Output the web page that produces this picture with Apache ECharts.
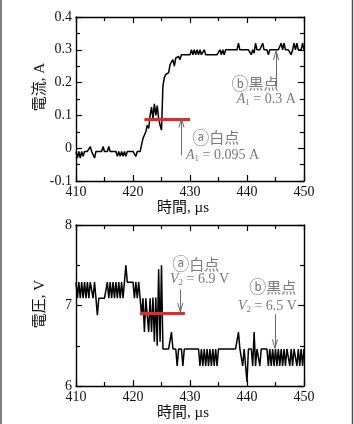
<!DOCTYPE html>
<html>
<head>
<meta charset="utf-8">
<script src="https://cdn.jsdelivr.net/npm/echarts@6/dist/echarts.min.js"></script>
<style>
  html, body { margin: 0; padding: 0; background: #fff; }
  #chart { width: 354px; height: 424px; }
</style>
</head>
<body>
<div id="chart"></div>
<script>
// sampling of both traces (µs)
var TIME_START = 410;
var TIME_STEP = 0.25;

// current trace, A (one row per µs)
var currentA = [
  -0.01, -0.03, -0.01, -0.03,   // 410
  -0.01, -0.025, -0.01, -0.01,  // 411
  -0.01, -0.01, 0.005, -0.01,   // 412
  -0.01, -0.03, -0.01, -0.01,   // 413
  -0.01, -0.01, -0.01, 0.005,   // 414
  -0.01, -0.01, -0.01, 0.005,   // 415
  -0.01, -0.01, -0.01, -0.01,   // 416
  -0.01, -0.025, -0.01, -0.025, // 417
  -0.01, -0.025, -0.01, -0.025, // 418
  -0.01, -0.01, -0.01, -0.01,   // 419
  -0.01, -0.01, -0.025, -0.01,  // 420
  -0.01, -0.01, 0.01, 0.03,     // 421
  0.03, 0.05, 0.07, 0.06,       // 422
  0.1, 0.125, 0.09, 0.135,      // 423
  0.1, 0.13, 0.09, 0.07,        // 424
  0.055, 0.19, 0.215, 0.225,    // 425
  0.23, 0.23, 0.255, 0.26,      // 426
  0.27, 0.25, 0.275, 0.28,      // 427
  0.28, 0.27, 0.285, 0.285,     // 428
  0.285, 0.285, 0.285, 0.285,   // 429
  0.285, 0.3, 0.285, 0.3,       // 430
  0.285, 0.3, 0.285, 0.3,       // 431
  0.285, 0.285, 0.3, 0.285,     // 432
  0.285, 0.285, 0.285, 0.285,   // 433
  0.285, 0.285, 0.285, 0.285,   // 434
  0.285, 0.3, 0.285, 0.3,       // 435
  0.285, 0.3, 0.3, 0.3,         // 436
  0.3, 0.3, 0.3, 0.3,           // 437
  0.3, 0.3, 0.32, 0.3,          // 438
  0.3, 0.3, 0.3, 0.3,           // 439
  0.3, 0.3, 0.3, 0.285,         // 440
  0.3, 0.29, 0.32, 0.3,         // 441
  0.3, 0.3, 0.3, 0.32,          // 442
  0.3, 0.3, 0.3, 0.285,         // 443
  0.3, 0.3, 0.3, 0.3,           // 444
  0.3, 0.3, 0.3, 0.3,           // 445
  0.32, 0.3, 0.32, 0.3,         // 446
  0.3, 0.3, 0.3, 0.285,         // 447
  0.3, 0.32, 0.3, 0.32,         // 448
  0.3, 0.3, 0.3, 0.32,          // 449
  0.3                           // 450
];

// voltage trace, V
var voltageV = [
  7.29, 7.09, 7.29, 7.09, // 410
  7.29, 7.09, 7.29, 7.09, // 411
  7.29, 7.09, 7.29, 7.29, // 412
  7.09, 7.29, 7.09, 6.88, // 413
  7.09, 7.09, 7.09, 7.09, // 414
  7.09, 7.09, 7.29, 7.09, // 415
  7.29, 7.09, 7.29, 7.09, // 416
  7.29, 7.09, 7.29, 7.09, // 417
  7.29, 7.09, 7.29, 7.5,  // 418
  7.29, 7.29, 7.29, 7.29, // 419
  7.29, 7.09, 7.29, 7.09, // 420
  7.29, 7.09, 6.88, 7.09, // 421
  6.67, 7.09, 6.88, 6.67, // 422
  7.09, 6.67, 7.1, 6.55,  // 423
  7.1, 6.5, 7.45, 6.55,   // 424
  7.5, 6.46, 6.46, 6.46,  // 425
  6.46, 6.46, 6.46, 6.67, // 426
  6.46, 6.46, 6.46, 6.25, // 427
  6.46, 6.46, 6.46, 6.25, // 428
  6.46, 6.46, 6.46, 6.46, // 429
  6.46, 6.46, 6.46, 6.46, // 430
  6.46, 6.46, 6.46, 6.25, // 431
  6.46, 6.25, 6.46, 6.25, // 432
  6.46, 6.25, 6.46, 6.25, // 433
  6.46, 6.25, 6.46, 6.25, // 434
  6.46, 6.46, 6.46, 6.46, // 435
  6.46, 6.46, 6.46, 6.46, // 436
  6.46, 6.46, 6.46, 6.46, // 437
  6.46, 6.46, 6.67, 6.46, // 438
  6.46, 6.25, 6.46, 6.46, // 439
  6.05, 6.46, 6.46, 6.46, // 440
  6.25, 6.67, 6.25, 6.46, // 441
  6.46, 6.25, 6.46, 6.46, // 442
  6.46, 6.46, 6.46, 6.25, // 443
  6.46, 6.25, 6.46, 6.25, // 444
  6.46, 6.25, 6.46, 6.25, // 445
  6.46, 6.25, 6.46, 6.25, // 446
  6.46, 6.46, 6.25, 6.46, // 447
  6.25, 6.46, 6.46, 6.25, // 448
  6.46, 6.25, 6.46, 6.25, // 449
  6.46                    // 450
];

// marked levels (white point / black point)
var currentMarks = { white: 0.095, black: 0.3 };
var voltageMarks = { white: 6.9, black: 6.5 };

var SERIF = '"Liberation Serif", "Times New Roman", "Noto Sans CJK JP", serif';
var NOTE_COLOR = '#7a7a7a';

function toPairs(vals) {
  var out = [];
  for (var i = 0; i < vals.length; i++) {
    out.push([TIME_START + i * TIME_STEP, vals[i]]);
  }
  return out;
}

function xAxisCfg(grid, pos, labels) {
  return {
    type: 'value', gridIndex: grid, position: pos,
    min: 410, max: 450, interval: 10,
    axisLine: { show: true, onZero: false, lineStyle: { color: '#000', width: 1.4 } },
    axisTick: { show: true, inside: true, length: 6, lineStyle: { color: '#000', width: 1.2 } },
    minorTick: { show: true, splitNumber: 2, length: 4, lineStyle: { color: '#000', width: 1.2 } },
    splitLine: { show: false },
    axisLabel: { show: labels, margin: 4, color: '#111', fontSize: 14, fontFamily: SERIF }
  };
}

function yAxisCfg(grid, pos, labels, min, max, interval) {
  return {
    type: 'value', gridIndex: grid, position: pos,
    min: min, max: max, interval: interval,
    axisLine: { show: true, onZero: false, lineStyle: { color: '#000', width: 1.4 } },
    axisTick: { show: true, inside: true, length: 6, lineStyle: { color: '#000', width: 1.2 } },
    minorTick: { show: true, splitNumber: 2, length: 4, lineStyle: { color: '#000', width: 1.2 } },
    splitLine: { show: false },
    axisLabel: { show: labels, margin: 4, color: '#111', fontSize: 14, fontFamily: SERIF }
  };
}

// vertical arrow: shaft from tail to tip, plus an open V head at the tip
function arrowLines(t, tail, tip, headW, headH) {
  var dir = tip > tail ? -1 : 1;
  return [
    [{ coord: [t, tail] }, { coord: [t, tip] }],
    [{ coord: [t - headW, tip + dir * headH] }, { coord: [t, tip] }],
    [{ coord: [t + headW, tip + dir * headH] }, { coord: [t, tip] }]
  ];
}

function note(t, v, text) {
  return {
    coord: [t, v], value: 0, symbolSize: 0,
    label: {
      show: true, position: 'inside', align: 'left', verticalAlign: 'middle',
      formatter: text, color: NOTE_COLOR, fontSize: 14, fontFamily: SERIF,
      rich: {
        c: { fontSize: 17, fontFamily: '"Noto Sans CJK JP"', color: NOTE_COLOR },
        j: { fontSize: 15, fontFamily: '"Noto Sans CJK JP"', color: NOTE_COLOR },
        i: { fontStyle: 'italic', fontSize: 14, fontFamily: SERIF, color: NOTE_COLOR },
        s: { fontSize: 9, fontFamily: SERIF, color: NOTE_COLOR, padding: [7, 0, 0, 0] }
      }
    }
  };
}

var redLine = { color: '#e8262b', width: 3.2, type: 'solid' };
var arrowStyle = { color: '#6a6a6a', width: 1, type: 'solid' };

var option = {
  animation: false,
  backgroundColor: '#fff',
  grid: [
    { left: 76, top: 17, width: 228, height: 164 },
    { left: 76, top: 225, width: 228, height: 161 }
  ],
  xAxis: [
    xAxisCfg(0, 'bottom', true), xAxisCfg(0, 'top', false),
    xAxisCfg(1, 'bottom', true), xAxisCfg(1, 'top', false)
  ],
  yAxis: [
    yAxisCfg(0, 'left', true, -0.1, 0.4, 0.1), yAxisCfg(0, 'right', false, -0.1, 0.4, 0.1),
    yAxisCfg(1, 'left', true, 6, 8, 1), yAxisCfg(1, 'right', false, 6, 8, 1)
  ],
  series: [
    {
      type: 'line', xAxisIndex: 0, yAxisIndex: 0,
      data: toPairs(currentA), showSymbol: false, silent: true,
      lineStyle: { color: '#000', width: 1.5 },
      markLine: {
        silent: true, symbol: ['none', 'none'], label: { show: false },
        lineStyle: arrowStyle,
        data: [].concat(
          [[{ coord: [422, 0.089], lineStyle: redLine }, { coord: [430, 0.089] }]],
          arrowLines(428.5, -0.021, 0.091, 0.45, 0.028),
          arrowLines(445.1, 0.186, currentMarks.black - 0.003, 0.45, 0.028)
        )
      },
      markPoint: {
        silent: true,
        data: [
          note(437.3, 0.198, '{c|ⓑ}{j|黒点}'),
          note(438.2, 0.149, '{i|A}{s|1} = ' + currentMarks.black + ' A'),
          note(430.4, 0.034, '{c|ⓐ}{j|白点}'),
          note(429.3, -0.021, '{i|A}{s|1} = ' + currentMarks.white + ' A')
        ]
      }
    },
    {
      type: 'line', xAxisIndex: 2, yAxisIndex: 2,
      data: toPairs(voltageV), showSymbol: false, silent: true,
      lineStyle: { color: '#000', width: 1.5 },
      markLine: {
        silent: true, symbol: ['none', 'none'], label: { show: false },
        lineStyle: arrowStyle,
        data: [].concat(
          [[{ coord: [421.2, voltageMarks.white], lineStyle: redLine }, { coord: [429.1, voltageMarks.white] }]],
          arrowLines(428.3, 7.2, 6.92, 0.45, 0.11),
          arrowLines(444.9, 6.89, 6.47, 0.45, 0.11)
        )
      },
      markPoint: {
        silent: true,
        data: [
          note(426.9, 7.515, '{c|ⓐ}{j|白点}'),
          note(426.5, 7.33, '{i|V}{s|2} = ' + voltageMarks.white + ' V'),
          note(440.4, 7.23, '{c|ⓑ}{j|黒点}'),
          note(438.4, 6.99, '{i|V}{s|2} = ' + voltageMarks.black + ' V')
        ]
      }
    }
  ],
  graphic: [
    { type: 'line', shape: { x1: 1, y1: 0, x2: 1, y2: 424 }, style: { stroke: '#555', lineWidth: 1.5 } },
    { type: 'line', shape: { x1: 352.5, y1: 0, x2: 352.5, y2: 424 }, style: { stroke: '#555', lineWidth: 1.5 } },
    {
      type: 'text', x: 40, y: 87, rotation: Math.PI / 2,
      style: { text: '電流, A', font: '15px ' + SERIF, fill: '#111', align: 'center', verticalAlign: 'middle' }
    },
    {
      type: 'text', x: 40, y: 304, rotation: Math.PI / 2,
      style: { text: '電圧, V', font: '15px ' + SERIF, fill: '#111', align: 'center', verticalAlign: 'middle' }
    },
    {
      type: 'text', x: 183, y: 208,
      style: { text: '時間, µs', font: '15px ' + SERIF, fill: '#111', align: 'center', verticalAlign: 'middle' }
    },
    {
      type: 'text', x: 183, y: 413,
      style: { text: '時間, µs', font: '15px ' + SERIF, fill: '#111', align: 'center', verticalAlign: 'middle' }
    }
  ]
};

var chart = echarts.init(document.getElementById('chart'), null, { renderer: 'canvas' });
chart.setOption(option);
</script>
</body>
</html>
